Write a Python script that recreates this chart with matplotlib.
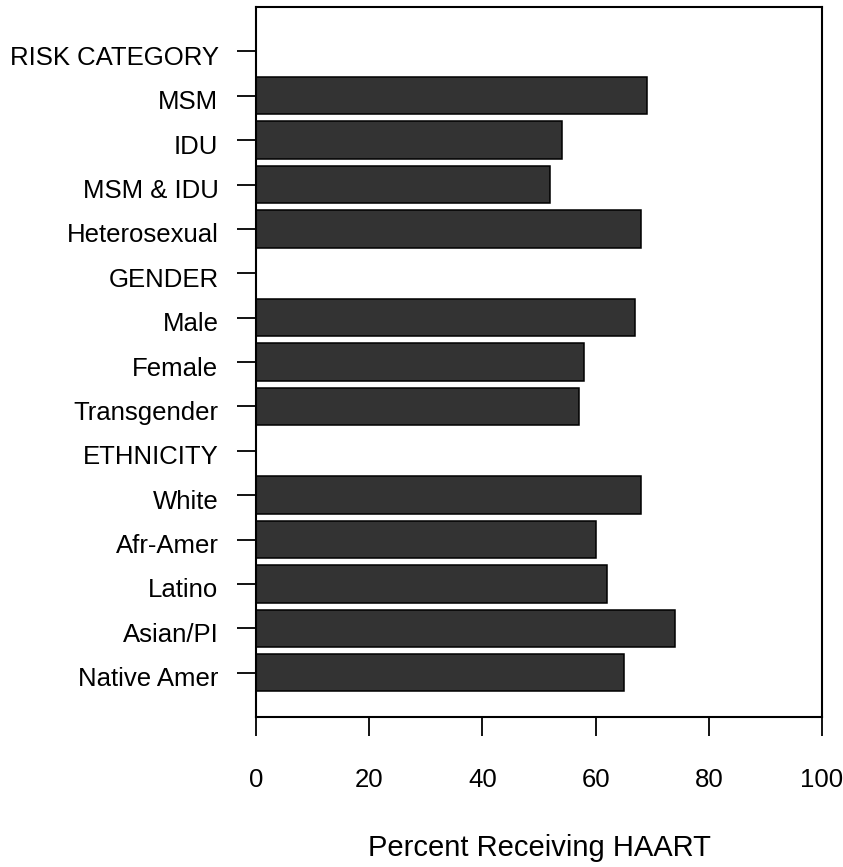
import matplotlib
matplotlib.use("Agg")
import matplotlib.pyplot as plt
import matplotlib.transforms as mtransforms
import numpy as np

plt.rcParams['font.family'] = ['Liberation Sans', 'DejaVu Sans']

categories = ["RISK CATEGORY", "MSM", "IDU", "MSM & IDU", "Heterosexual",
              "GENDER", "Male", "Female", "Transgender",
              "ETHNICITY", "White", "Afr-Amer", "Latino", "Asian/PI", "Native Amer"]
values = [0, 69, 54, 52, 68,
          0, 67, 58, 57,
          0, 68, 60, 62, 74, 65]
xticks = [0, 20, 40, 60, 80, 100]
xlabel = "Percent Receiving HAART"

fig = plt.figure(figsize=(8.43, 8.67), dpi=100)
ax = fig.add_axes([256/843, 1-717/867, (822-256)/843, (717-7)/867])

y = np.arange(len(categories))
ax.barh(y, values, height=0.84, color="#333333", edgecolor="black", linewidth=1.1)

ax.set_xlim(0, 100)
ax.set_ylim(len(categories), -1)
ax.set_yticks(y)
ax.set_yticklabels(categories, fontsize=18.5)
ax.set_xticks(xticks)
ax.set_xticklabels([str(t) for t in xticks], fontsize=18.5)
ax.tick_params(axis='x', direction='out', length=14, width=1.3, pad=23)
ax.tick_params(axis='y', direction='out', length=14, width=1.3, pad=13)
for s in ax.spines.values():
    s.set_linewidth(1.5)
ax.set_xlabel(xlabel, fontsize=21, labelpad=30)

offset = mtransforms.ScaledTranslation(0, -4/100, fig.dpi_scale_trans)
for lbl in ax.get_yticklabels():
    lbl.set_transform(lbl.get_transform() + offset)

fig.savefig("out.png", dpi=100)
